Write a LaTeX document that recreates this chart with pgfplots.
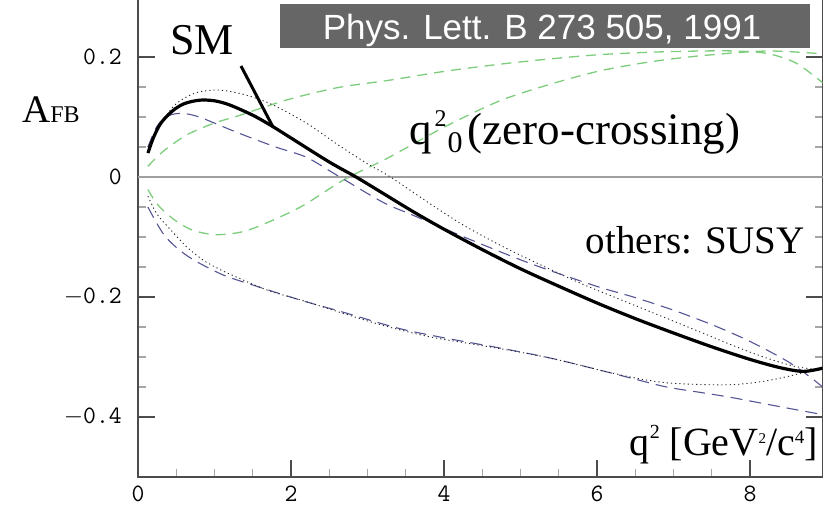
\documentclass[border=0pt]{standalone}
\usepackage{pgfplots}
\pgfplotsset{compat=1.18}
\usepackage{fontspec}
\setmainfont{Liberation Serif}
\newfontfamily\boxfont{Liberation Sans}

\definecolor{susyblue}{RGB}{85,85,150}
\definecolor{susygreen}{RGB}{125,205,125}
\definecolor{boxgray}{RGB}{102,102,102}

\begin{document}
\begin{tikzpicture}
\begin{axis}[
    at={(0,0)}, anchor=south west,
    scale only axis,
    width=684.7pt, height=480pt,
    xmin=0, xmax=8.95,
    ymin=-0.5, ymax=0.3,
    xtick={0,2,4,6,8},
    ytick={-0.4,-0.2,0,0.2},
    yticklabels={$-$0.4,$-$0.2,0,0.2},
    minor x tick num=3,
    minor y tick num=3,
    xtick pos=bottom,
    tick align=inside,
    major tick length=17pt,
    minor tick length=8pt,
    tick style={gray!60!black, line width=1.1pt},
    minor tick style={gray!70, line width=1.1pt},
    axis line style={gray!60!black, line width=1.2pt},
    /pgf/number format/assume math mode=true,
    tick label style={font=\fontsize{25}{25}\selectfont\ttfamily, inner sep=0pt},
    yticklabel style={xshift=-16pt},
    xticklabel style={yshift=-9pt},
    clip=true,
]

% zero line
\addplot[gray!75, line width=1.5pt] coordinates {(0,0) (8.95,0)};

% SUSY variants: green dashed
\addplot[susygreen, line width=1.3pt, dash pattern=on 10pt off 7pt, smooth] coordinates {
    (0.13,0.018) (0.35,0.045) (0.65,0.071) (1.0,0.09) (1.31,0.102) (1.96,0.129)
    (2.61,0.149) (3.27,0.161) (4.0,0.176) (4.73,0.188) (5.4,0.197) (6.04,0.204)
    (6.7,0.208) (7.35,0.21) (7.8,0.21) (8.22,0.206) (8.6,0.19) (8.97,0.155)
};
\addplot[susygreen, line width=1.3pt, dash pattern=on 10pt off 7pt, smooth] coordinates {
    (0.13,-0.021) (0.25,-0.045) (0.44,-0.068) (0.7,-0.088) (1.0,-0.096) (1.3,-0.093)
    (1.52,-0.085) (1.85,-0.067) (2.18,-0.046) (2.7,-0.004) (3.27,0.032) (4.0,0.083)
    (4.73,0.127) (5.4,0.155) (6.04,0.177) (6.7,0.192) (7.35,0.202) (8.22,0.21) (8.97,0.205)
};

% SUSY variants: blue long dashed
\addplot[susyblue, line width=1.1pt, dash pattern=on 12pt off 7pt, smooth] coordinates {
    (0.13,0.05) (0.25,0.085) (0.4,0.102) (0.57,0.106) (0.8,0.1) (1.3,0.074)
    (1.8,0.05) (2.2,0.033) (2.6,0.003) (3.2,-0.042) (3.6,-0.064) (4.3,-0.102)
    (5.0,-0.138) (5.5,-0.161) (6.04,-0.184) (6.5,-0.201) (7.0,-0.222) (7.5,-0.246)
    (7.9,-0.268) (8.2,-0.287) (8.5,-0.308) (8.75,-0.33) (8.97,-0.352)
};
\addplot[susyblue, line width=1.1pt, dash pattern=on 12pt off 7pt, smooth] coordinates {
    (0.13,-0.05) (0.35,-0.098) (0.65,-0.132) (1.09,-0.162) (1.5,-0.18) (2.12,-0.205)
    (2.7,-0.226) (3.4,-0.252) (4.0,-0.268) (4.73,-0.285) (5.4,-0.302) (6.04,-0.322)
    (6.5,-0.337) (6.91,-0.35) (7.4,-0.36) (7.78,-0.368) (8.44,-0.384) (8.95,-0.396)
};

% SUSY variants: black dotted
\addplot[black!85, line width=0.9pt, dash pattern=on 1.2pt off 3pt, smooth] coordinates {
    (0.13,0.05) (0.3,0.09) (0.5,0.122) (0.75,0.14) (1.05,0.145) (1.4,0.137)
    (1.75,0.121) (2.2,0.09) (2.6,0.055) (3.0,0.022) (3.3,0.0) (3.8,-0.043)
    (4.25,-0.08) (4.8,-0.118) (5.34,-0.151) (5.8,-0.178) (6.3,-0.204) (6.9,-0.235)
    (7.4,-0.261) (7.8,-0.282) (8.2,-0.301) (8.6,-0.316) (8.97,-0.322)
};
\addplot[black!85, line width=0.9pt, dash pattern=on 1.2pt off 3pt, smooth] coordinates {
    (0.13,-0.032) (0.25,-0.062) (0.44,-0.09) (0.65,-0.118) (0.87,-0.14) (1.1,-0.156)
    (1.31,-0.168) (1.7,-0.189) (2.18,-0.207) (2.7,-0.228) (3.22,-0.248) (3.8,-0.266)
    (4.4,-0.279) (5.0,-0.292) (5.5,-0.305) (6.04,-0.322) (6.5,-0.335) (6.91,-0.343)
    (7.4,-0.346) (7.78,-0.346) (8.1,-0.342) (8.44,-0.334) (8.82,-0.322) (8.97,-0.318)
};

% Standard Model
\addplot[black, line width=3.2pt, smooth] coordinates {
    (0.13,0.04) (0.2,0.065) (0.3,0.09) (0.45,0.11) (0.6,0.122) (0.8,0.128)
    (1.0,0.127) (1.2,0.12) (1.5,0.103) (1.75,0.085) (2.0,0.065) (2.5,0.025)
    (2.85,0) (3.2,-0.027) (3.6,-0.058) (4.0,-0.087) (4.5,-0.121) (5.0,-0.153)
    (5.5,-0.182) (6.0,-0.21) (6.5,-0.236) (7.0,-0.26) (7.5,-0.283) (8.0,-0.304)
    (8.4,-0.318) (8.7,-0.324) (8.97,-0.318)
};
\end{axis}

% annotations (1pt = 1px of the reference, origin at the axis' lower left corner)
\fill[boxgray] (142pt,429pt) rectangle (672pt,473pt);
\node[anchor=base, inner sep=0pt, text=white] at (404pt,437pt)
    {\boxfont\fontsize{35}{36}\selectfont Phys. Lett. B 273 505, 1991};

\node[anchor=base west, inner sep=0pt] at (32pt,422pt)
    {\fontsize{44}{46}\selectfont SM};
\draw[black, line width=3pt] (103pt,411pt) -- (135pt,350pt);

\node[anchor=base west, inner sep=0pt] at (-116pt,354pt)
    {\fontsize{39}{40}\selectfont A\fontsize{24}{25}\selectfont FB};

\node[anchor=base west, inner sep=0pt] at (271pt,333pt)
    {\fontsize{45}{46}\selectfont q\hspace{3pt}\raisebox{17pt}{\fontsize{24}{24}\selectfont 2}\hspace{1pt}\raisebox{-9pt}{\fontsize{30}{30}\selectfont 0}\hspace{5pt}(zero-crossing)};

\node[anchor=base east, inner sep=0pt] at (667pt,224pt)
    {\fontsize{39}{40}\selectfont others: SUSY};

\node[anchor=base east, inner sep=0pt] at (680pt,22pt)
    {\fontsize{40}{41}\selectfont q\raisebox{17pt}{\fontsize{20}{20}\selectfont 2}\hspace{10pt}[GeV\raisebox{12pt}{\fontsize{15}{15}\selectfont 2}/c\raisebox{12pt}{\fontsize{19}{19}\selectfont 4}]};

\pgfresetboundingbox
\path[use as bounding box] (-138pt,-30pt) rectangle (686pt,477pt);
\end{tikzpicture}
\end{document}
